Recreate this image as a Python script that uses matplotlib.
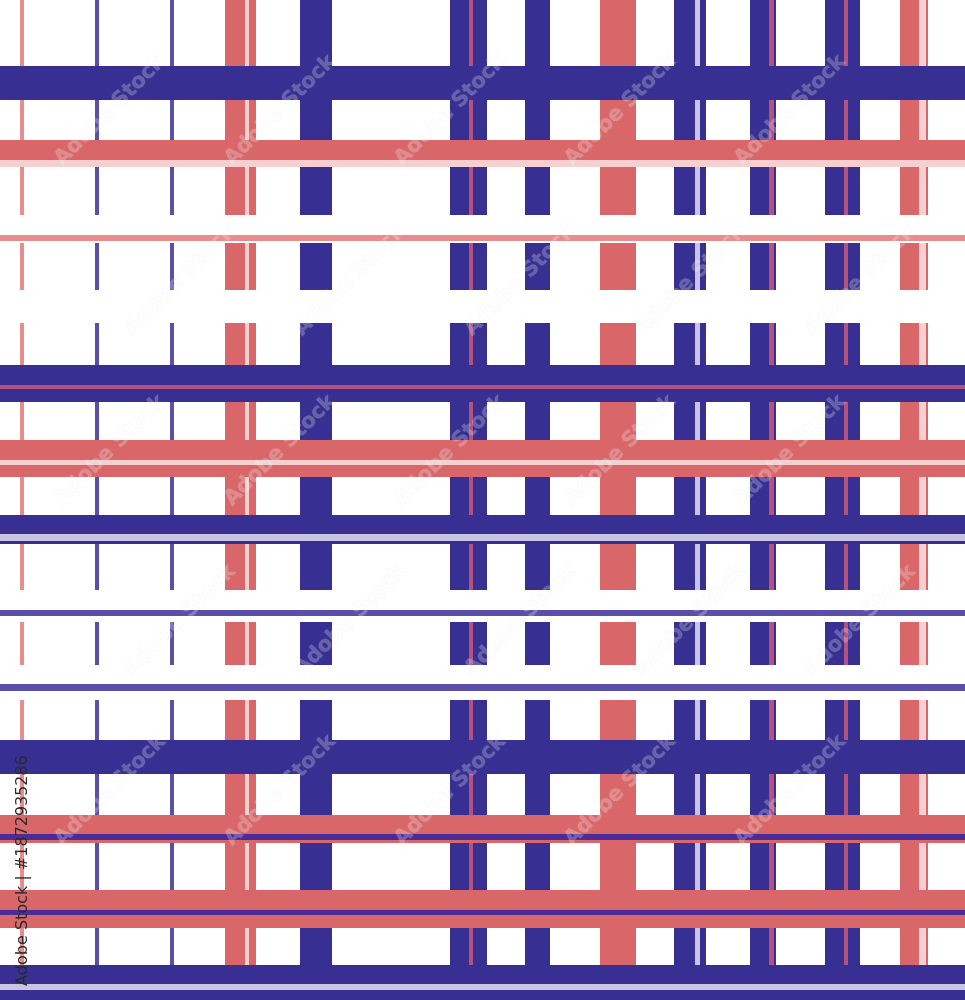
import matplotlib
matplotlib.use("Agg")
import matplotlib.pyplot as plt
import matplotlib.patheffects as pe

# ---- stripe data (pixel units of the 965x1000 tile) ----
BLUE = "#372f91"
PINK = "#d9676a"
PINK_L = "#e98c8e"
PURPLE = "#5a50aa"
ROSE = "#b3517f"
BLUSH = "#f6d0d0"
LAVENDER = "#c9c3e4"
INDIGO = "#4b2c96"

# vertical stripes: start, end, colour
v_start = [19.5, 95, 170, 225, 300, 450, 524.5, 600, 674, 749.5, 824.5, 899.5]
v_end = [23.5, 99, 174, 256, 332, 486.5, 550, 636, 706, 775.5, 860, 928]
v_color = [PINK_L, PURPLE, PURPLE, PINK, BLUE, BLUE, BLUE, PINK, BLUE, BLUE, BLUE, PINK]

# thin lines inside vertical stripes
vi_start = [245, 468.5, 694.5, 769, 844, 919]
vi_end = [249, 472.5, 700, 774, 848, 925.5]
vi_color = [BLUSH, ROSE, LAVENDER, ROSE, ROSE, BLUSH]

# white horizontal gaps cutting the vertical stripes
gap_start = [215, 290, 589.5, 664.5]
gap_end = [243, 323, 622, 699.5]

# horizontal stripes
h_start = [66, 140, 235, 365, 440, 515, 610, 684, 740, 815, 890, 964.5]
h_end = [99.5, 167, 241, 402, 477, 543.5, 615.5, 690.5, 773.5, 843, 927.5, 1000]
h_color = [BLUE, PINK, PINK_L, BLUE, PINK, BLUE, PURPLE, PURPLE, BLUE, PINK, PINK, BLUE]

# thin lines inside horizontal stripes
hi_start = [160, 384.5, 460, 534, 834, 909.5, 983.5]
hi_end = [167, 389, 464.5, 540.5, 840, 915, 990]
hi_color = [BLUSH, ROSE, BLUSH, LAVENDER, INDIGO, INDIGO, LAVENDER]

W, H = 965, 1000

fig = plt.figure(figsize=(9.65, 10.0), dpi=100)
ax = fig.add_axes([0, 0, 1, 1])
ax.set_xlim(0, W)
ax.set_ylim(H, 0)
ax.axis("off")
fig.patch.set_facecolor("white")

for s, e, c in zip(v_start, v_end, v_color):
    ax.axvspan(s, e, color=c, lw=0, zorder=1)
for s, e, c in zip(vi_start, vi_end, vi_color):
    ax.axvspan(s, e, color=c, lw=0, zorder=2)
for s, e in zip(gap_start, gap_end):
    ax.axhspan(s, e, color="white", lw=0, zorder=3)
for s, e, c in zip(h_start, h_end, h_color):
    ax.axhspan(s, e, color=c, lw=0, zorder=4)
for s, e, c in zip(hi_start, hi_end, hi_color):
    ax.axhspan(s, e, color=c, lw=0, zorder=5)

# faint diagonal watermarks
wm_x = [110, 280, 450, 620, 790]
wm_y = [110, 280, 450, 620, 790]
for i, y in enumerate(wm_y):
    for j, x in enumerate(wm_x):
        xx = x + (70 if i % 2 else 0)
        ax.text(xx, y, "Adobe Stock", rotation=45, ha="center", va="center",
                fontsize=15, fontweight="bold", color="white", alpha=0.15,
                family="DejaVu Sans", zorder=6,
                path_effects=[pe.withStroke(linewidth=1.0, foreground="#e0e0e0", alpha=0.10)])

ax.text(24, 870, "Adobe Stock | #1872935286", rotation=90, ha="center", va="center",
        fontsize=11.5, color="#2a2a2a", family="DejaVu Sans", zorder=7)

fig.savefig("out.png", dpi=100, facecolor="white")
